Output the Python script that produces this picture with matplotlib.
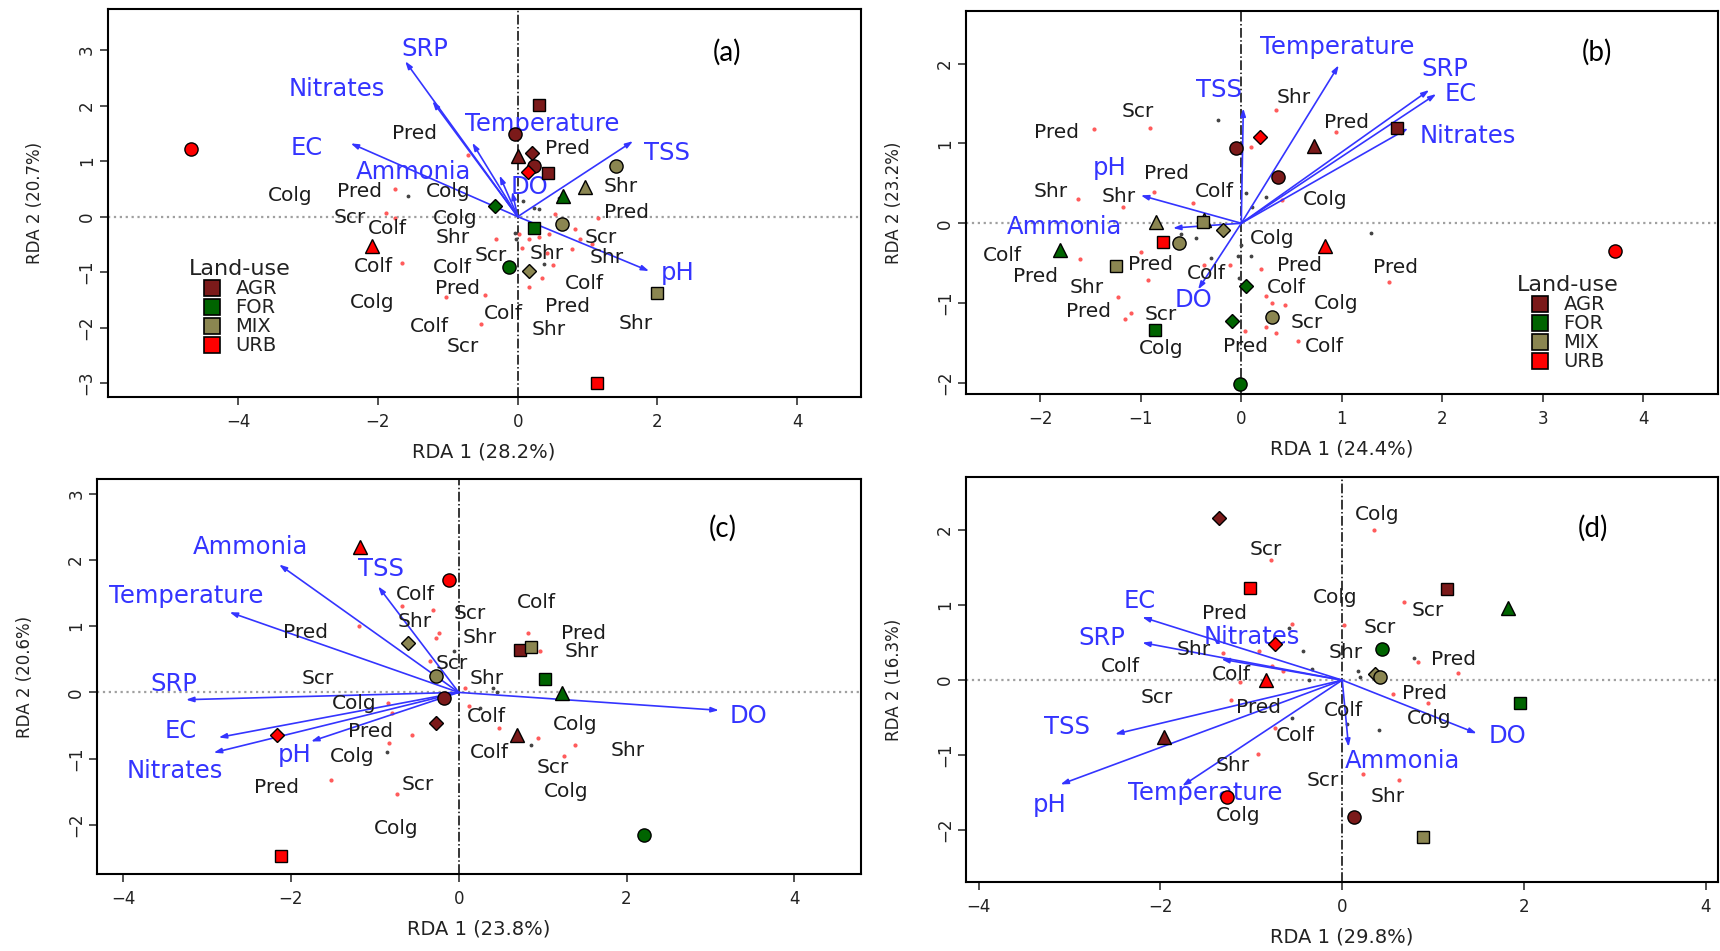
import matplotlib
matplotlib.use('Agg')
import matplotlib.pyplot as plt
from matplotlib.lines import Line2D

plt.rcParams['font.family'] = ['DejaVu Sans']

# Land-use groups and colours
land_use = ['AGR', 'FOR', 'MIX', 'URB']
use_colors = ['#7b1a1a', '#006400', '#8b8651', '#ff0000']

# ---------------- panel (a) ----------------
a_env = ['SRP', 'Nitrates', 'Temperature', 'EC', 'Ammonia', 'DO', 'TSS', 'pH']
a_env_x = [-1.61, -1.22, -0.65, -2.39, -0.26, -0.08, 1.65, 1.88]
a_env_y = [2.80, 2.08, 1.33, 1.32, 0.74, 0.45, 1.36, -0.98]
a_lab_x = [-1.33, -2.59, 0.35, -3.02, -1.49, 0.17, 2.14, 2.29]
a_lab_y = [3.02, 2.30, 1.66, 1.23, 0.80, 0.54, 1.14, -1.02]
a_site_use = ['URB', 'AGR', 'AGR', 'AGR', 'AGR', 'AGR', 'URB', 'AGR', 'MIX', 'MIX',
              'FOR', 'FOR', 'MIX', 'FOR', 'URB', 'FOR', 'MIX', 'MIX', 'URB']
a_site_pch = ['o', 's', 'o', '^', 'D', 'o', 'D', 's', 'o', '^',
              '^', 'D', 'o', 's', '^', 'o', 'D', 's', 's']
a_site_x = [-4.67, 0.31, -0.04, 0.0, 0.2, 0.24, 0.14, 0.43, 1.41, 0.96,
            0.65, -0.33, 0.63, 0.24, -2.09, -0.12, 0.16, 2.0, 1.14]
a_site_y = [1.21, 2.02, 1.48, 1.09, 1.15, 0.91, 0.80, 0.79, 0.91, 0.53,
            0.37, 0.19, -0.13, -0.2, -0.53, -0.91, -0.98, -1.38, -3.0]
a_spp = ['Pred', 'Pred', 'Colg', 'Pred', 'Colg', 'Shr', 'Pred', 'Scr', 'Colf', 'Colg',
         'Shr', 'Scr', 'Scr', 'Shr', 'Shr', 'Colf', 'Colf', 'Pred', 'Colf', 'Colg',
         'Pred', 'Colf', 'Colf', 'Shr', 'Shr', 'Scr']
a_spp_x = [-1.47, 0.71, -3.25, -2.26, -1.0, 1.47, 1.55, -2.41, -1.87, -0.9,
           -0.93, 1.19, -0.38, 0.41, 1.28, -2.06, -0.94, -0.86, 0.96, -2.08,
           0.71, -0.2, -1.27, 0.45, 1.69, -0.78]
a_spp_y = [1.49, 1.23, 0.38, 0.46, 0.46, 0.55, 0.08, -0.02, -0.22, -0.04,
           -0.37, -0.37, -0.70, -0.67, -0.74, -0.89, -0.91, -1.30, -1.21, -1.54,
           -1.62, -1.75, -1.98, -2.04, -1.93, -2.34]
a_dot_x = [-0.71, -1.76, -1.88, -1.75, -1.65, -1.02, -0.47, -0.53, -0.31, 0.02, 0.16, 0.31,
           0.45, 0.53, 0.82, 0.89, 0.78, 0.51, 0.35, 0.16, 1.15, 0.42, 1.06, 0.06]
a_dot_y = [1.11, 0.49, 0.07, -0.02, -0.83, -1.45, -1.41, -1.93, -0.40, -0.32, -0.41, -0.37,
           -0.31, 0.04, -0.23, -0.41, -0.59, -0.88, -1.1, -1.26, -0.02, -0.65, -0.5, -0.56]
a_blk_x = [-1.57, 0.08, 0.24, 0.31, -0.04, -0.02, 0.38, 0.59]
a_blk_y = [0.37, 0.28, 0.16, 0.13, -0.29, -0.41, -0.86, 0.34]

# ---------------- panel (b) ----------------
b_env = ['Temperature', 'SRP', 'EC', 'Nitrates', 'TSS', 'pH', 'Ammonia', 'DO']
b_env_x = [0.97, 1.87, 1.94, 1.66, 0.02, -1.0, -0.68, -0.43]
b_env_y = [1.98, 1.67, 1.62, 1.19, 1.44, 0.35, -0.06, -0.83]
b_lab_x = [0.95, 2.03, 2.18, 2.25, -0.22, -1.31, -1.76, -0.48]
b_lab_y = [2.21, 1.93, 1.62, 1.09, 1.67, 0.69, -0.05, -0.96]
b_site_use = ['AGR', 'URB', 'AGR', 'AGR', 'AGR', 'MIX', 'MIX', 'MIX', 'MIX', 'MIX',
              'URB', 'FOR', 'URB', 'URB', 'MIX', 'FOR', 'FOR', 'MIX', 'FOR', 'FOR']
b_site_pch = ['s', 'D', 'o', '^', 'o', '^', '^', 's', 'D', 'o',
              's', '^', '^', 'o', 's', 'D', 'D', 'o', 's', 'o']
b_site_x = [1.55, 0.19, -0.05, 0.72, 0.37, -0.85, -0.37, -0.38, -0.18, -0.62,
            -0.78, -1.8, 0.83, 3.72, -1.25, 0.05, -0.09, 0.31, -0.86, -0.01]
b_site_y = [1.2, 1.08, 0.94, 0.97, 0.58, 0.01, 0.04, 0.02, -0.08, -0.25,
            -0.23, -0.33, -0.28, -0.35, -0.54, -0.79, -1.22, -1.18, -1.34, -2.02]
b_spp = ['Scr', 'Pred', 'Shr', 'Pred', 'Pred', 'Shr', 'Shr', 'Colf', 'Colg', 'Colg',
         'Colf', 'Pred', 'Pred', 'Pred', 'Pred', 'Colf', 'Shr', 'Colf', 'Colg', 'Pred',
         'Scr', 'Scr', 'Colg', 'Pred', 'Colf']
b_spp_x = [-1.03, -1.84, 0.52, 1.05, -0.74, -1.9, -1.22, -0.27, 0.83, 0.31,
           -2.38, -0.9, 0.58, 1.53, -2.05, -0.35, -1.54, 0.45, 0.94, -1.52,
           -0.8, 0.65, -0.8, 0.04, 0.83]
b_spp_y = [1.40, 1.14, 1.58, 1.26, 0.62, 0.40, 0.33, 0.40, 0.30, -0.19,
           -0.41, -0.52, -0.53, -0.56, -0.67, -0.63, -0.80, -0.80, -1.01, -1.11,
           -1.14, -1.25, -1.57, -1.54, -1.55]
b_dot_x = [-1.47, -0.91, 0.35, 0.94, 0.1, -0.87, -1.62, -1.18, -0.48, 0.41, -1.0, -1.61,
           -0.93, -1.23, -1.1, -1.16, -0.37, -0.11, 0.2, 0.25, 0.31, 0.44, 0.25, 0.04,
           0.35, 0.56, 1.47]
b_dot_y = [1.18, 1.2, 1.42, 1.14, 0.96, 0.39, 0.3, 0.2, 0.25, 0.29, -0.36, -0.45,
           -0.71, -0.93, -1.12, -1.2, -0.52, -0.52, -0.57, -0.91, -1.0, -1.02, -1.3, -1.35,
           -1.38, -1.48, -0.73]
b_blk_x = [-0.23, 0.05, 0.25, 0.11, -0.6, -0.45, -0.3, -0.03, 0.1, 0.0, 1.29, -0.02]
b_blk_y = [1.3, 0.38, 0.33, 0.21, -0.13, -0.18, -0.44, -0.41, -0.41, -0.27, -0.12, -0.68]

# ---------------- panel (c) ----------------
c_env = ['Ammonia', 'TSS', 'Temperature', 'SRP', 'EC', 'Nitrates', 'pH', 'DO']
c_env_x = [-2.14, -0.96, -2.73, -3.25, -2.86, -2.92, -1.76, 3.1]
c_env_y = [1.93, 1.60, 1.21, -0.11, -0.68, -0.91, -0.74, -0.27]
c_lab_x = [-2.48, -0.92, -3.25, -3.39, -3.31, -3.38, -1.96, 3.45]
c_lab_y = [2.19, 1.86, 1.46, 0.12, -0.59, -1.18, -0.95, -0.35]
c_site_use = ['URB', 'URB', 'MIX', 'MIX', 'AGR', 'AGR', 'URB', 'URB', 'AGR', 'MIX',
              'FOR', 'FOR', 'AGR', 'FOR']
c_site_pch = ['^', 'o', 'D', 'o', 'o', 'D', 'D', 's', 's', 's',
              's', '^', '^', 'o']
c_site_x = [-1.18, -0.12, -0.6, -0.27, -0.18, -0.27, -2.16, -2.12, 0.73, 0.86,
            1.03, 1.23, 0.69, 2.21]
c_site_y = [2.19, 1.69, 0.75, 0.24, -0.08, -0.46, -0.64, -2.47, 0.64, 0.69,
            0.2, -0.01, -0.65, -2.15]
c_spp = ['Colf', 'Colf', 'Scr', 'Shr', 'Pred', 'Shr', 'Pred', 'Shr', 'Scr', 'Scr',
         'Shr', 'Colg', 'Colf', 'Colg', 'Pred', 'Colf', 'Shr', 'Colg', 'Scr', 'Pred',
         'Scr', 'Colg', 'Colg']
c_spp_x = [-0.52, 0.92, 0.13, -0.52, -1.83, 0.25, 1.49, 1.46, -0.08, -1.68,
           0.33, -1.24, 0.33, 1.39, -1.05, 0.37, 2.01, -1.27, 1.12, -2.17,
           -0.49, 1.28, -0.75]
c_spp_y = [1.47, 1.35, 1.19, 1.07, 0.9, 0.83, 0.89, 0.62, 0.43, 0.21,
           0.21, -0.17, -0.37, -0.49, -0.59, -0.9, -0.88, -0.96, -1.13, -1.44,
           -1.39, -1.5, -2.05]
c_dot_x = [-0.67, -0.31, -1.19, -0.24, -0.27, -0.34, 0.07, 0.12, -0.84, -0.8, -0.56, -0.83,
           0.48, 0.82, 0.97, 0.95, 1.38, 1.25, -1.52, -0.73]
c_dot_y = [1.3, 1.24, 1.0, 0.89, 0.82, 0.47, 0.07, -0.21, -0.16, -0.31, -0.64, -0.77,
           -0.53, 0.89, 0.62, -0.69, -0.8, -0.96, -1.32, -1.54]
c_blk_x = [-0.06, 0.41, 0.46, 0.25, 0.86, -0.85]
c_blk_y = [0.62, 0.07, 0.0, -0.24, -0.79, -0.9]

# ---------------- panel (d) ----------------
d_env = ['EC', 'SRP', 'Nitrates', 'TSS', 'pH', 'Temperature', 'Ammonia', 'DO']
d_env_x = [-2.2, -2.2, -1.33, -2.5, -3.1, -1.76, 0.07, 1.48]
d_env_y = [0.84, 0.5, 0.28, -0.72, -1.39, -1.41, -0.89, -0.71]
d_lab_x = [-2.23, -2.65, -0.99, -3.03, -3.22, -1.51, 0.66, 1.82]
d_lab_y = [1.06, 0.56, 0.58, -0.62, -1.67, -1.51, -1.08, -0.74]
d_site_use = ['AGR', 'URB', 'AGR', 'FOR', 'URB', 'FOR', 'URB', 'MIX', 'MIX', 'FOR',
              'AGR', 'URB', 'AGR', 'MIX']
d_site_pch = ['D', 's', 's', '^', 'D', 'o', '^', 'D', 'o', 's',
              '^', 'o', 'o', 's']
d_site_x = [-1.36, -1.01, 1.15, 1.82, -0.74, 0.44, -0.84, 0.36, 0.42, 1.96,
            -1.96, -1.27, 0.13, 0.89]
d_site_y = [2.16, 1.23, 1.21, 0.96, 0.48, 0.41, 0.0, 0.08, 0.04, -0.3,
            -0.76, -1.56, -1.82, -2.09]
d_spp = ['Colg', 'Scr', 'Colg', 'Scr', 'Pred', 'Scr', 'Shr', 'Shr', 'Pred', 'Colf',
         'Colf', 'Scr', 'Pred', 'Pred', 'Colf', 'Colg', 'Colf', 'Shr', 'Scr', 'Shr',
         'Colg']
d_spp_x = [0.38, -0.84, -0.08, 0.94, -1.29, 0.41, -1.63, 0.04, 1.22, -2.44,
           -1.22, -2.04, 0.91, -0.92, 0.01, 0.96, -0.51, -1.21, -0.21, 0.5,
           -1.14]
d_spp_y = [2.21, 1.74, 1.1, 0.93, 0.89, 0.7, 0.41, 0.37, 0.27, 0.18,
           0.07, -0.23, -0.18, -0.36, -0.41, -0.51, -0.74, -1.14, -1.34, -1.55,
           -1.8]
d_dot_x = [0.35, -0.78, 0.68, 0.02, -0.55, -0.92, -1.31, -0.65, -0.77, 0.83, 1.27, 0.56,
           0.94, -1.22, -0.74, -0.93, 0.23, 0.63, -1.13]
d_dot_y = [2.0, 1.6, 1.04, 0.74, 0.75, 0.39, 0.36, 0.12, 0.19, 0.24, 0.1, -0.19,
           -0.31, -0.27, -0.64, -0.98, -1.25, -1.33, -0.03]
d_blk_x = [-0.59, -0.43, -0.33, -0.37, 0.17, 0.2, 0.79, -0.55, 0.05, 0.4]
d_blk_y = [0.7, 0.39, 0.15, 0.0, 0.12, 0.04, 0.3, -0.5, -0.59, -0.67]

# axis setup per panel
panel_tags = ['(a)', '(b)', '(c)', '(d)']
x_titles = ['RDA 1 (28.2%)', 'RDA 1 (24.4%)', 'RDA 1 (23.8%)', 'RDA 1 (29.8%)']
y_titles = ['RDA 2 (20.7%)', 'RDA 2 (23.2%)', 'RDA 2 (20.6%)', 'RDA 2 (16.3%)']

BLUE = '#3434ff'
SPP_COLOR = '#1c1c1c'


def draw_panel(ax, env, ex, ey, lx, ly, use, pch, sx, sy, spp, px, py,
               dx, dy, kx, ky, xlim, ylim, xticks, yticks, tag, tag_pos, xt, yt):
    ax.axhline(0, color='#a0a0a0', lw=1.6, ls=':', zorder=1)
    ax.axvline(0, color='black', lw=1.1, ls='-.', zorder=1)

    ax.plot(dx, dy, ls='none', marker='.', ms=4, color='#ff5a5a', zorder=2)
    ax.plot(kx, ky, ls='none', marker='.', ms=3.5, color='#444444', zorder=2)

    for name, x, y, tx, ty in zip(env, ex, ey, lx, ly):
        ax.annotate('', xy=(x, y), xytext=(0, 0),
                    arrowprops=dict(arrowstyle='-|>,head_length=0.45,head_width=0.15',
                                    color=BLUE, lw=1.2, shrinkA=0, shrinkB=0),
                    zorder=3)
        ax.text(tx, ty, name, color=BLUE, fontsize=17.5, ha='center', va='center', zorder=4)

    for name, x, y in zip(spp, px, py):
        ax.text(x, y, name, color=SPP_COLOR, fontsize=14.5, ha='center', va='center', zorder=3)

    sizes = {'o': 9.5, 's': 9, 'D': 7.5, '^': 10.5}
    for u, m, x, y in zip(use, pch, sx, sy):
        ax.plot(x, y, marker=m, ms=sizes[m], ls='none',
                mfc=use_colors[land_use.index(u)], mec='black', mew=1.0, zorder=5)

    ax.text(tag_pos[0], tag_pos[1], tag, transform=ax.transAxes, fontsize=20,
            family='Lato', ha='center', va='center', color='black')

    ax.set_xlim(xlim)
    ax.set_ylim(ylim)
    ax.set_xticks(xticks)
    ax.set_yticks(yticks)
    ax.tick_params(direction='out', length=5.5, width=1.1, labelsize=12, colors='#222222')
    ax.tick_params(axis='x', pad=6)
    ax.tick_params(axis='y', labelrotation=90, pad=3)
    for lab in ax.get_yticklabels():
        lab.set_va('center')
    for s in ax.spines.values():
        s.set_linewidth(1.5)
    ax.set_xlabel(xt, fontsize=14, labelpad=8, color='#222222')
    ax.set_ylabel(yt, fontsize=12, labelpad=24, color='#222222')


def add_legend(ax, anchor):
    handles = [Line2D([], [], ls='none', marker='s', ms=11, mfc=c, mec='black', mew=1.2)
               for c in use_colors]
    leg = ax.legend(handles, land_use, title='Land-use', loc='upper left',
                    bbox_to_anchor=anchor, frameon=False, fontsize=14,
                    title_fontsize=16, labelspacing=0.0, handletextpad=0.7,
                    borderpad=0, handlelength=1.0, handleheight=0.6)
    for t in leg.get_texts():
        t.set_color('#222222')
    leg.get_title().set_color('#222222')


fig = plt.figure(figsize=(17.2, 9.51), dpi=100)
ax_a = fig.add_axes([0.0625, 0.5825, 0.438, 0.408])
ax_b = fig.add_axes([0.5616, 0.5857, 0.437, 0.4027])
ax_c = fig.add_axes([0.0564, 0.081, 0.444, 0.4153])
ax_d = fig.add_axes([0.5616, 0.0726, 0.437, 0.426])

draw_panel(ax_a, a_env, a_env_x, a_env_y, a_lab_x, a_lab_y, a_site_use, a_site_pch,
           a_site_x, a_site_y, a_spp, a_spp_x, a_spp_y, a_dot_x, a_dot_y, a_blk_x, a_blk_y,
           (-5.87, 4.91), (-3.25, 3.74), [-4, -2, 0, 2, 4], [-3, -2, -1, 0, 1, 2, 3],
           panel_tags[0], (0.822, 0.889), x_titles[0], y_titles[0])
add_legend(ax_a, (0.095, 0.38))

draw_panel(ax_b, b_env, b_env_x, b_env_y, b_lab_x, b_lab_y, b_site_use, b_site_pch,
           b_site_x, b_site_y, b_spp, b_spp_x, b_spp_y, b_dot_x, b_dot_y, b_blk_x, b_blk_y,
           (-2.74, 4.74), (-2.14, 2.66), [-2, -1, 0, 1, 2, 3, 4], [-2, -1, 0, 1, 2],
           panel_tags[1], (0.84, 0.893), x_titles[1], y_titles[1])
add_legend(ax_b, (0.72, 0.335))

draw_panel(ax_c, c_env, c_env_x, c_env_y, c_lab_x, c_lab_y, c_site_use, c_site_pch,
           c_site_x, c_site_y, c_spp, c_spp_x, c_spp_y, c_dot_x, c_dot_y, c_blk_x, c_blk_y,
           (-4.31, 4.79), (-2.74, 3.22), [-4, -2, 0, 2, 4], [-2, -1, 0, 1, 2, 3],
           panel_tags[2], (0.82, 0.876), x_titles[2], y_titles[2])

draw_panel(ax_d, d_env, d_env_x, d_env_y, d_lab_x, d_lab_y, d_site_use, d_site_pch,
           d_site_x, d_site_y, d_spp, d_spp_x, d_spp_y, d_dot_x, d_dot_y, d_blk_x, d_blk_y,
           (-4.14, 4.13), (-2.69, 2.71), [-4, -2, 0, 2, 4], [-2, -1, 0, 1, 2],
           panel_tags[3], (0.834, 0.874), x_titles[3], y_titles[3])

fig.savefig('out.png', dpi=100)
